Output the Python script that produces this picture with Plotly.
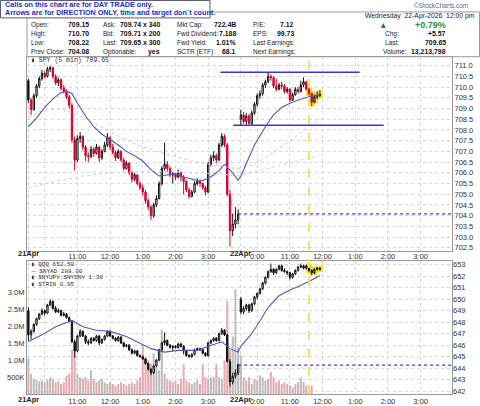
import plotly.graph_objects as go

# ---------------- data (5-min bars) ----------------
# index 0..77 = 21-Apr 9:30..3:55 pm, index 78..107 = 22-Apr 9:30..11:55 am
spy_open = [710.30,709.40,708.95,709.60,710.05,710.40,710.65,710.50,710.85,710.90,
            710.50,710.20,710.35,709.95,709.80,709.55,709.15,707.55,706.60,707.60,
            707.70,707.20,706.80,706.75,707.10,706.90,707.20,706.70,707.00,707.30,
            707.65,707.20,706.95,706.70,707.00,706.60,706.20,706.45,706.00,705.70,
            705.90,705.50,705.30,705.10,704.70,704.40,704.00,704.50,704.80,705.50,
            706.20,706.40,706.20,705.90,705.95,705.80,706.00,705.80,705.60,705.20,
            704.90,705.10,705.50,705.60,705.50,705.30,705.10,706.40,706.70,706.80,
            706.60,707.30,707.70,707.30,705.00,703.30,703.60,703.80,
            708.50,708.70,708.40,708.65,708.30,708.80,709.20,709.60,709.70,710.10,
            710.25,710.50,710.45,710.05,709.90,710.10,710.05,709.80,709.90,709.40,
            709.65,709.90,709.80,710.10,710.25,709.90,709.70,709.30,709.55,709.60]
spy_high = [710.40,709.50,709.70,710.15,710.50,710.80,710.75,710.95,711.00,710.95,
            710.60,710.45,710.40,710.10,709.90,709.65,709.25,707.70,707.75,707.90,
            707.75,707.30,706.95,707.25,707.20,707.35,707.25,707.10,707.45,707.85,
            707.70,707.35,707.05,707.10,707.05,706.70,706.55,706.50,706.10,706.00,
            705.95,705.60,705.45,705.20,704.80,704.50,704.60,704.95,705.60,706.30,
            707.40,706.55,706.30,706.05,706.00,706.15,706.05,705.90,705.65,705.30,
            705.20,705.60,705.75,705.70,705.55,705.40,706.50,706.85,707.00,706.90,
            707.40,707.85,707.80,707.40,705.20,704.10,704.40,704.30,
            708.95,708.85,708.80,708.75,708.90,709.30,709.70,709.85,710.20,710.35,
            710.70,710.60,710.50,710.40,710.20,710.25,710.15,710.00,709.95,709.75,
            710.00,710.00,710.30,710.45,710.30,709.95,709.75,709.65,709.80,709.85]
spy_low = [709.25,708.70,708.90,709.50,709.95,710.30,710.40,710.45,710.70,710.40,
           710.10,710.05,709.85,709.70,709.45,709.00,707.40,706.10,706.50,707.40,
           707.05,706.55,706.50,706.70,706.75,706.85,706.50,706.60,706.95,707.20,
           707.05,706.85,706.55,706.65,706.50,706.10,706.15,705.90,705.55,705.60,
           705.40,705.20,704.95,704.55,704.25,703.80,703.90,704.40,704.75,705.40,
           706.10,706.05,705.80,705.50,705.65,705.75,705.60,705.00,705.10,704.80,
           704.85,705.05,705.40,705.35,705.20,704.95,705.05,706.30,706.55,706.45,
           706.55,707.20,707.20,704.90,702.55,703.05,703.40,703.60,
           708.22,708.30,708.25,708.25,708.25,708.70,709.10,709.45,709.60,709.95,
           710.20,710.30,709.95,709.80,709.85,709.90,709.70,709.70,709.30,709.35,
           709.60,709.70,709.75,710.00,709.85,709.60,709.10,709.25,709.45,709.55]
spy_close = [709.40,708.95,709.60,710.05,710.40,710.65,710.50,710.85,710.90,710.50,
             710.20,710.35,709.95,709.80,709.55,709.15,707.55,706.60,707.60,707.70,
             707.20,706.80,706.75,707.10,706.90,707.20,706.70,707.00,707.30,707.65,
             707.20,706.95,706.70,707.00,706.60,706.20,706.45,706.00,705.70,705.90,
             705.50,705.30,705.10,704.70,704.40,704.00,704.50,704.80,705.50,706.20,
             706.40,706.20,705.90,705.95,705.80,706.00,705.80,705.60,705.20,704.90,
             705.10,705.50,705.60,705.50,705.30,705.10,706.40,706.70,706.80,706.60,
             707.30,707.70,707.30,705.00,703.30,703.60,703.80,704.08,
             708.70,708.40,708.65,708.30,708.80,709.20,709.60,709.70,710.10,710.25,
             710.50,710.45,710.05,709.90,710.10,710.05,709.80,709.90,709.40,709.65,
             709.90,709.80,710.10,710.25,709.90,709.70,709.30,709.55,709.60,709.65]

qqq_open = [649.00,646.90,647.20,647.80,648.30,648.70,649.00,648.80,649.50,649.80,
            649.20,648.90,649.00,648.60,648.70,648.40,648.10,646.30,645.50,646.80,
            647.20,646.80,646.30,646.20,646.60,646.40,646.80,646.20,646.50,646.80,
            647.20,646.80,646.60,646.40,646.70,646.20,645.90,646.00,645.60,645.30,
            645.50,645.10,645.00,644.80,644.40,643.90,643.60,644.20,644.70,645.60,
            646.20,646.40,646.00,645.80,645.90,645.80,646.10,645.90,645.50,645.10,
            645.00,645.20,645.60,645.70,645.60,645.30,645.10,646.20,646.40,646.60,
            646.40,647.00,647.30,646.90,644.60,642.80,643.30,643.60,
            650.00,648.90,649.20,649.50,649.00,649.60,650.20,650.50,650.90,651.40,
            651.90,652.40,652.60,652.30,652.60,652.90,652.50,652.40,652.30,651.90,
            652.20,652.50,652.80,652.90,652.70,652.90,652.50,652.30,652.60,652.70]
qqq_high = [649.30,647.40,647.90,648.40,648.80,649.20,649.10,649.60,650.00,649.90,
            649.40,649.20,649.10,648.90,648.80,648.50,648.20,646.50,646.90,647.40,
            647.30,646.90,646.50,646.70,646.70,646.90,646.90,646.60,646.90,647.30,
            647.30,646.90,646.70,646.80,646.80,646.30,646.10,646.10,645.70,645.60,
            645.60,645.20,645.10,644.90,644.50,644.00,644.30,644.80,645.70,646.30,
            647.10,646.50,646.10,646.00,646.00,646.20,646.20,646.00,645.60,645.20,
            645.30,645.70,645.80,645.80,645.70,645.40,646.30,646.50,646.70,646.70,
            647.10,647.50,647.40,647.00,644.80,643.60,643.90,644.40,
            650.20,649.40,649.60,649.60,649.70,650.30,650.60,651.00,651.50,652.00,
            652.50,653.10,652.70,652.70,653.00,653.00,652.70,652.50,652.40,652.30,
            652.60,652.90,653.10,653.00,653.00,653.00,652.60,652.70,652.80,652.80]
qqq_low = [646.40,646.50,647.10,647.70,648.20,648.60,648.60,648.70,649.40,649.10,
           648.80,648.80,648.50,648.50,648.30,648.00,646.20,644.90,645.40,646.70,
           646.70,646.10,646.00,646.10,646.30,646.30,646.00,646.10,646.40,646.70,
           646.70,646.50,646.30,646.30,646.10,645.80,645.80,645.50,645.20,645.20,
           645.00,644.90,644.70,644.30,643.80,643.40,643.50,644.10,644.60,645.50,
           646.00,645.90,645.70,645.50,645.70,645.70,645.80,645.20,645.00,644.90,
           644.90,645.10,645.50,645.50,645.20,645.00,645.00,646.10,646.30,646.30,
           646.30,646.90,646.80,644.50,642.40,642.60,643.10,643.40,
           648.70,648.70,649.00,648.80,648.90,649.50,650.00,650.40,650.80,651.30,
           651.80,652.30,652.10,652.20,652.50,652.40,652.30,652.10,651.70,651.80,
           652.10,652.40,652.70,652.60,652.60,652.40,652.10,652.20,652.50,652.50]
qqq_close = [646.90,647.20,647.80,648.30,648.70,649.00,648.80,649.50,649.80,649.20,
             648.90,649.00,648.60,648.70,648.40,648.10,646.30,645.50,646.80,647.20,
             646.80,646.30,646.20,646.60,646.40,646.80,646.20,646.50,646.80,647.20,
             646.80,646.60,646.40,646.70,646.20,645.90,646.00,645.60,645.30,645.50,
             645.10,645.00,644.80,644.40,643.90,643.60,644.20,644.70,645.60,646.20,
             646.40,646.00,645.80,645.90,645.80,646.10,645.90,645.50,645.10,645.00,
             645.20,645.60,645.70,645.60,645.30,645.10,646.20,646.40,646.60,646.40,
             647.00,647.30,646.90,644.60,642.80,643.30,643.60,644.30,
             648.90,649.20,649.50,649.00,649.60,650.20,650.50,650.90,651.40,651.90,
             652.40,652.60,652.30,652.60,652.90,652.50,652.40,652.30,651.90,652.20,
             652.50,652.80,652.90,652.70,652.90,652.50,652.30,652.60,652.70,652.59]

volume_m = [1.05,0.60,0.45,0.42,0.38,0.40,0.35,0.42,0.50,0.45,
            0.35,0.38,0.30,0.35,0.55,0.60,1.30,1.50,0.60,0.50,
            0.45,0.50,0.40,0.70,0.45,0.35,0.40,0.45,0.35,0.30,
            0.35,0.30,0.25,0.30,0.35,0.30,0.25,0.30,0.35,0.30,
            0.40,0.50,1.45,1.10,1.00,0.90,1.20,0.80,0.70,1.90,
            0.60,0.45,0.40,0.35,0.40,0.30,0.45,0.88,0.40,0.35,
            0.30,0.35,0.40,0.30,0.88,0.50,0.45,0.50,0.50,0.88,
            0.50,0.45,1.00,2.75,1.30,1.70,3.10,1.40,
            1.15,0.50,0.40,0.50,0.30,0.45,0.40,0.55,0.50,0.40,
            0.45,0.65,0.50,0.35,0.40,0.30,0.35,0.30,0.25,0.20,
            0.30,0.35,0.50,0.35,0.25,0.20,0.25,None,None,None]

# moving-average vertices (bar index, value)
spy_ma_x = [0,3,6,9,12,14,16,18,21,24,27,30,33,36,39,42,45,48,51,54,57,60,63,66,68,70,72,75,77,78,80,83,87,90,93,96,99,103,107]
spy_ma_y = [708.15,708.55,709.05,709.45,709.75,709.8,709.7,709.25,708.65,708.15,707.8,707.55,707.3,707.0,706.8,706.55,706.15,705.85,705.9,705.95,705.8,705.7,705.6,705.75,705.9,706.1,706.4,706.0,705.65,705.85,706.4,707.3,708.15,708.7,709.05,709.25,709.4,709.55,709.65]
spy_ma2_x = [0,5,12,20,30,40,50,60,70,77,82,87,95,100,107]
spy_ma2_y = [708.6,708.9,709.0,708.6,707.9,707.3,706.9,706.55,706.3,706.2,706.35,706.7,707.4,707.85,708.5]
spy_ma3_x = [0,10,20,30,40,50,60,70,77,85,95,107]
spy_ma3_y = [705.3,705.6,705.85,706.0,706.05,706.05,706.0,705.95,705.85,706.1,706.45,706.8]
qqq_ma_x = [0,5,10,16,20,25,30,36,45,50,55,62,66,71,74,77,78,82,85,88,92,96,100,104,107]
qqq_ma_y = [646.33,646.9,647.6,648.15,647.6,647.3,647.2,646.75,645.7,645.4,645.55,645.55,645.9,646.3,645.7,645.4,645.9,647.0,648.1,649.3,650.3,650.8,651.2,651.65,652.05]

# drawn levels: (value, first bar, last bar)
spy_levels = [(710.70, 70.5, 121.6), (708.22, 75.2, 130.4)]
spy_prev_close = 704.08
qqq_prev_close = 644.26
signal_bar = 103
highlight_bars = [103, 104, 105, 106, 107]

time_ticks = [0, 6, 18, 30, 42, 54, 66, 78, 84, 96, 108, 120, 132, 144]
time_labels = ["", "", "11:00", "12:00", "1:00", "2:00", "3:00", "", "0:00", "11:00", "12:00", "1:00", "2:00", "3:00"]
date_ticks = [0, 78]
date_labels = ["21Apr", "22Apr"]
N_SLOTS = 156

# ---------------- figure ----------------
W, H = 480, 406
FONT = "Liberation Sans, Arial, sans-serif"
MONO = "Liberation Mono, DejaVu Sans Mono, monospace"
def px(x): return x / W
def py(y): return 1 - y / H

RED = "#d4002c"
fig = go.Figure()

def candle(ix, o, h, l, c, xa, ya, up_line, up_fill, dn_line, dn_fill, width=1.0):
    return go.Candlestick(
        x=ix, open=[o[i] for i in ix], high=[h[i] for i in ix], low=[l[i] for i in ix],
        close=[c[i] for i in ix], xaxis=xa, yaxis=ya, whiskerwidth=0,
        increasing=dict(line=dict(color=up_line, width=width), fillcolor=up_fill),
        decreasing=dict(line=dict(color=dn_line, width=width), fillcolor=dn_fill),
        hoverinfo="skip", showlegend=False)

n = len(spy_close)
allidx = list(range(n))

# volume (bottom panel, left axis)
vol_col = []
for i in range(n):
    up = True if i == 0 else spy_close[i] >= spy_close[i - 1]
    vol_col.append("#bdbdbd" if up else "#e9a9b1")
fig.add_trace(go.Bar(x=allidx, y=volume_m, marker=dict(color=vol_col, line=dict(width=0)),
                     width=0.75, xaxis="x2", yaxis="y2", hoverinfo="skip", showlegend=False))

# QQQ
fig.add_trace(candle(highlight_bars, qqq_open, qqq_high, qqq_low, qqq_close, "x2", "y3",
                     "#f3e03a", "#f3e03a", "#f3e03a", "#f3e03a", width=5))
fig.add_trace(candle(allidx, qqq_open, qqq_high, qqq_low, qqq_close, "x2", "y3",
                     "#111111", "white", "#111111", "#111111"))
fig.add_trace(go.Scatter(x=qqq_ma_x, y=qqq_ma_y, mode="lines", line=dict(color="#5555c8", width=1.1),
                         xaxis="x2", yaxis="y3", hoverinfo="skip", showlegend=False))
fig.add_trace(go.Scatter(x=[77, N_SLOTS - 0.5], y=[qqq_prev_close] * 2, mode="lines",
                         line=dict(color="#3a3ae8", width=1.2, dash="dot"),
                         xaxis="x2", yaxis="y3", hoverinfo="skip", showlegend=False))

# SPY
fig.add_trace(go.Scatter(x=spy_ma2_x, y=spy_ma2_y, mode="lines", line=dict(color="#f0b8c0", width=1, dash="dot"),
                         hoverinfo="skip", showlegend=False))
fig.add_trace(go.Scatter(x=spy_ma3_x, y=spy_ma3_y, mode="lines", line=dict(color="#c8d8c0", width=1, dash="dot"),
                         hoverinfo="skip", showlegend=False))
fig.add_trace(candle(highlight_bars, spy_open, spy_high, spy_low, spy_close, "x", "y",
                     "#f3e03a", "#f3e03a", "#f3e03a", "#f3e03a", width=5))
black_ix = [i for i in range(n) if i == 0 or i == 78 or spy_close[i] >= spy_close[i - 1]]
red_ix = [i for i in range(n) if i not in black_ix]
fig.add_trace(candle(black_ix, spy_open, spy_high, spy_low, spy_close, "x", "y",
                     "#111111", "white", "#111111", "#111111"))
fig.add_trace(candle(red_ix, spy_open, spy_high, spy_low, spy_close, "x", "y",
                     RED, "white", RED, RED))
fig.add_trace(go.Scatter(x=spy_ma_x, y=spy_ma_y, mode="lines", line=dict(color="#5555c8", width=1.1),
                         hoverinfo="skip", showlegend=False))
for lv, a, b in spy_levels:
    fig.add_trace(go.Scatter(x=[a, b], y=[lv, lv], mode="lines", line=dict(color="#3434e0", width=1.5),
                             hoverinfo="skip", showlegend=False))
fig.add_trace(go.Scatter(x=[77, N_SLOTS - 0.5], y=[spy_prev_close] * 2, mode="lines",
                         line=dict(color="#3a3ae8", width=1.2, dash="dot"), hoverinfo="skip", showlegend=False))

grid = dict(showgrid=True, gridcolor="#d6d6d6", griddash="dot", gridwidth=1)
axline = dict(showline=True, mirror=True, linecolor="#9a9a9a", linewidth=1, zeroline=False, ticks="",
              fixedrange=True)
tickfont = dict(family=FONT, size=7.5, color="#333")
xcommon = dict(domain=[px(27), px(452)], range=[-0.5, N_SLOTS - 0.5], tickmode="array",
               tickvals=time_ticks, ticktext=time_labels, tickfont=tickfont,
               rangeslider=dict(visible=False), **grid, **axline)

fig.update_layout(
    width=W, height=H, margin=dict(l=0, r=0, t=0, b=0),
    paper_bgcolor="white", plot_bgcolor="white", showlegend=False,
    font=dict(family=FONT, size=8, color="#222"),
    xaxis=dict(anchor="y", ticklabelstandoff=-2, **xcommon),
    xaxis2=dict(anchor="y2", **xcommon),
    yaxis=dict(domain=[py(252), py(57)], range=[702.36, 711.42], side="right", anchor="x",
               tickmode="array", tickvals=[702.5 + 0.5 * k for k in range(18)],
               ticktext=["%.1f" % (702.5 + 0.5 * k) for k in range(18)], tickfont=tickfont,
               **grid, **axline),
    yaxis2=dict(domain=[py(396), py(262)], range=[0, 3.94], side="left", anchor="x2",
                tickmode="array", tickvals=[0.5, 1.0, 1.5, 2.0, 2.5, 3.0],
                ticktext=["500K", "1.0M", "1.5M", "2.0M", "2.5M", "3.0M"], tickfont=tickfont,
                showgrid=False, **axline),
    yaxis3=dict(overlaying="y2", side="right", anchor="x2", range=[641.75, 653.35],
                tickmode="array", tickvals=list(range(642, 654)), ticktext=[str(v) for v in range(642, 654)],
                tickfont=tickfont, **grid, showline=False, zeroline=False, ticks="", fixedrange=True),
)

shapes = []
# header frame
shapes.append(dict(type="rect", xref="paper", yref="paper", x0=px(27), x1=px(479.5), y0=py(57), y1=py(12),
                   line=dict(color="#9a9a9a", width=1), fillcolor="rgba(0,0,0,0)", layer="below"))
# note box
shapes.append(dict(type="rect", xref="paper", yref="paper", x0=px(0.5), x1=px(210), y0=py(18), y1=py(0.5),
                   line=dict(color="#5a5a7a", width=1), fillcolor="white", layer="above"))
# signal vertical dashed line
shapes.append(dict(type="line", xref="x", yref="paper", x0=signal_bar, x1=signal_bar, y0=py(396), y1=py(58),
                   line=dict(color="#ffd866", width=2, dash="dash"), layer="above"))
fig.update_layout(shapes=shapes)

ann = []
def T(text, x, y, size=6.5, color="#222", bold=False, xa="left", family=FONT, bg=None):
    d = dict(text=("<b>%s</b>" % text) if bold else text, x=px(x), y=py(y), xref="paper", yref="paper",
             xanchor=xa, yanchor="middle", showarrow=False, font=dict(family=family, size=size, color=color))
    if bg:
        d["bgcolor"] = bg
        d["borderpad"] = 0
    ann.append(d)

T("Calls on this chart are for DAY TRADE only.", 3, 5, 7.2, "#1c2ccf", True)
T("Arrows are for DIRECTION ONLY, time and target don`t count.", 3, 13, 7.2, "#1c2ccf", True)
T("©StockCharts.com", 470, 6, 6.5, "#666", xa="right")
T("Wednesday  22-Apr-2026  12:00 pm", 477, 16, 6.8, "#222", xa="right")

rows_y = [25, 34, 43, 52]
col1 = [("Open:", "709.15"), ("High:", "710.70"), ("Low:", "708.22"), ("Prev Close:", "704.08")]
col2 = [("Ask:", "709.74 x 340"), ("Bid:", "709.71 x 200"), ("Last:", "709.65 x 300"), ("Optionable:", "yes")]
col3 = [("Mkt Cap:", "722.4B"), ("Fwd Dividend:", "7.188"), ("Fwd Yield:", "1.01%"), ("SCTR (ETF):", "68.1")]
col4 = [("P/E:", "7.12"), ("EPS:", "99.73"), ("Last Earnings:", ""), ("Next Earnings:", "")]
VS = 6.9
for (lab, val), y in zip(col1, rows_y):
    T(lab, 29, y); T(val, 91, y, VS, "#111", True, "right")
for (lab, val), y in zip(col2, rows_y):
    T(lab, 101, y); T(val, 162, y, VS, "#111", True, "right")
for (lab, val), y in zip(col3, rows_y):
    T(lab, 175, y); T(val, 238, y, VS, "#111", True, "right")
for (lab, val), y in zip(col4, rows_y):
    T(lab, 251, y)
    if val:
        T(val, 296, y, VS, "#111", True, "right")
T("▲", 383, 25, 8.5, "#2e7d32", xa="center")
T("+0.79%", 448, 25.5, 9, "#2e8b3a", True, "right")
T("Chg:", 383, 34); T("+5.57", 448, 34, VS, "#111", True, "right")
T("Last:", 383, 43); T("709.65", 448, 43, VS, "#111", True, "right")
T("Volume:", 381, 52); T("13,213,798", 448, 52, VS, "#111", True, "right")

# panel legends
T("▮ SPY (5 min) 709.65", 29, 61, 6.5, "#333", family=MONO)
leg = ["▮ QQQ 652.59", "— $NYAD 288.00", "▮ $NYUPV:$NYDNV 1.30", "▮ $TRIN 0.95"]
for k, s in enumerate(leg):
    T(s, 29, 266 + 6.5 * k, 6, "#333", family=MONO)

# date labels on the time axis
for yy in (255, 401):
    for b, lab in zip(date_ticks, date_labels):
        ann.append(dict(text="<b>%s</b>" % lab, x=b, xref="x", y=py(yy), yref="paper",
                        xanchor="center", yanchor="middle", showarrow=False,
                        font=dict(family=FONT, size=7.5, color="#222")))
fig.update_layout(annotations=ann)

fig.write_html("out.html")
